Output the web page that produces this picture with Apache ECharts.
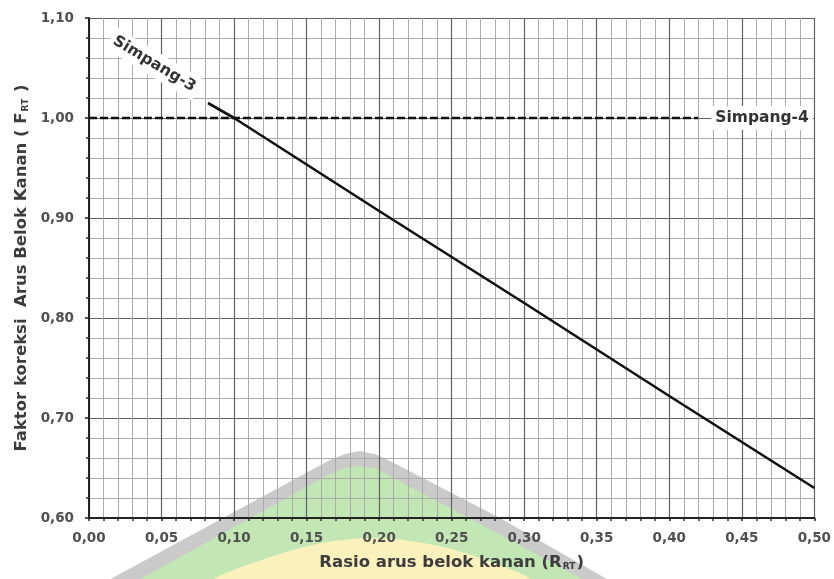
<!DOCTYPE html>
<html>
<head>
<meta charset="utf-8">
<script src="https://cdn.jsdelivr.net/npm/echarts@6/dist/echarts.min.js"></script>
<style>
  html, body { margin: 0; padding: 0; background: #ffffff; }
  #chart { width: 834px; height: 579px; }
</style>
</head>
<body>
<div id="chart"></div>
<script>
// Right-turn correction factor vs. right-turn ratio
var xTicks = [0, 0.05, 0.10, 0.15, 0.20, 0.25, 0.30, 0.35, 0.40, 0.45, 0.50];
var yTicks = [0.60, 0.70, 0.80, 0.90, 1.00, 1.10];

// Simpang-3 (three-arm junction): straight decreasing line
var simpang3 = [[0.082, 1.015], [0.10, 1.000], [0.20, 0.907], [0.30, 0.815], [0.40, 0.722], [0.50, 0.630]];
// Simpang-4 (four-arm junction): constant factor
var simpang4 = [[0.00, 1.00], [0.42, 1.00]];

var fontFam = '"DejaVu Sans", Verdana, sans-serif';
var tickColor = '#505050';
var nameColor = '#3c3c3c';

function fmt(v) { return v.toFixed(2).replace('.', ','); }

var nameStyle = {
  color: nameColor, fontSize: 16.5, fontWeight: 'bold', fontFamily: fontFam,
  rich: {
    sub: { fontSize: 9, fontWeight: 'bold', verticalAlign: 'bottom', color: nameColor, fontFamily: fontFam, padding: [7, 1, 0, 1] }
  }
};

var chart = echarts.init(document.getElementById('chart'));

chart.setOption({
  backgroundColor: '#ffffff',
  animation: false,
  grid: { left: 89, right: 19, top: 18, bottom: 61 },
  xAxis: {
    type: 'value',
    min: xTicks[0],
    max: xTicks[xTicks.length - 1],
    interval: 0.05,
    name: 'Rasio arus belok kanan (R{sub|RT})',
    nameLocation: 'middle',
    nameGap: 36,
    nameTextStyle: nameStyle,
    axisLine: { show: true, onZero: false, lineStyle: { color: '#222', width: 2 } },
    axisTick: { show: true, length: 3, lineStyle: { color: '#222', width: 1.5 } },
    minorTick: { show: true, splitNumber: 5, length: 3, lineStyle: { color: '#333', width: 1.5 } },
    axisLabel: { color: tickColor, fontSize: 13.5, fontWeight: 'bold', fontFamily: fontFam, margin: 13, formatter: fmt },
    splitLine: { show: true, lineStyle: { color: '#626262', width: 1.2 } },
    minorSplitLine: { show: true, lineStyle: { color: '#ababab', width: 1 } }
  },
  yAxis: {
    type: 'value',
    min: yTicks[0],
    max: yTicks[yTicks.length - 1],
    interval: 0.1,
    name: 'Faktor koreksi  Arus Belok Kanan ( F{sub|RT} )',
    nameLocation: 'middle',
    nameGap: 56,
    nameTextStyle: nameStyle,
    axisLine: { show: true, onZero: false, lineStyle: { color: '#222', width: 2 } },
    axisTick: { show: true, length: 4, lineStyle: { color: '#222', width: 1.5 } },
    minorTick: { show: true, splitNumber: 5, length: 3, lineStyle: { color: '#333', width: 1.5 } },
    axisLabel: { color: tickColor, fontSize: 13.5, fontWeight: 'bold', fontFamily: fontFam, margin: 15, formatter: fmt },
    splitLine: { show: true, lineStyle: { color: '#626262', width: 1.2 } },
    minorSplitLine: { show: true, lineStyle: { color: '#ababab', width: 1 } }
  },
  series: [
    {
      name: 'Simpang-3',
      type: 'line',
      data: simpang3,
      symbol: 'none',
      z: 5,
      lineStyle: { color: '#111', width: 2.6 }
    },
    {
      name: 'Simpang-4',
      type: 'line',
      data: simpang4,
      symbol: 'none',
      z: 5,
      lineStyle: { color: '#111', width: 2.6, type: [8, 3] },
      endLabel: {
        show: true,
        formatter: 'Simpang-4',
        distance: 13,
        color: '#333',
        fontSize: 15.5,
        fontWeight: 'bold',
        fontFamily: fontFam,
        backgroundColor: '#ffffff',
        padding: [4, 4, 4, 4]
      }
    }
  ]
});

// Rotated name label for Simpang-3 placed along its line
var p3 = chart.convertToPixel('grid', [0.045, 1.054]);

// Faint emblem watermark near the bottom centre, kept behind the axes
var wm = [
  { type: 'polygon', z: -3, shape: { points: [[105, 582], [330, 460], [345, 454], [360, 451], [375, 454], [392, 462], [500, 518], [612, 582]] },
    style: { fill: '#cacaca' } },
  { type: 'polygon', z: -2, shape: { points: [[135, 582], [330, 474], [345, 468], [360, 466], [375, 468], [390, 476], [495, 532], [588, 582]] },
    style: { fill: '#c2e7b4' } },
  { type: 'polygon', z: -1, shape: { smooth: 0.3, points: [[215, 582], [300, 548], [375, 538], [455, 550], [530, 582]] },
    style: { fill: '#fbf1bd' } }
];

chart.setOption({
  graphic: wm.concat([
    {
      type: 'text',
      x: p3[0],
      y: p3[1],
      rotation: -31 * Math.PI / 180,
      z: 20,
      style: {
        text: 'Simpang-3',
        align: 'center',
        verticalAlign: 'middle',
        fill: '#333',
        backgroundColor: '#ffffff',
        padding: [4, 4, 4, 4],
        font: 'bold 15.5px "DejaVu Sans", Verdana, sans-serif'
      }
    }
  ])
});
</script>
</body>
</html>
